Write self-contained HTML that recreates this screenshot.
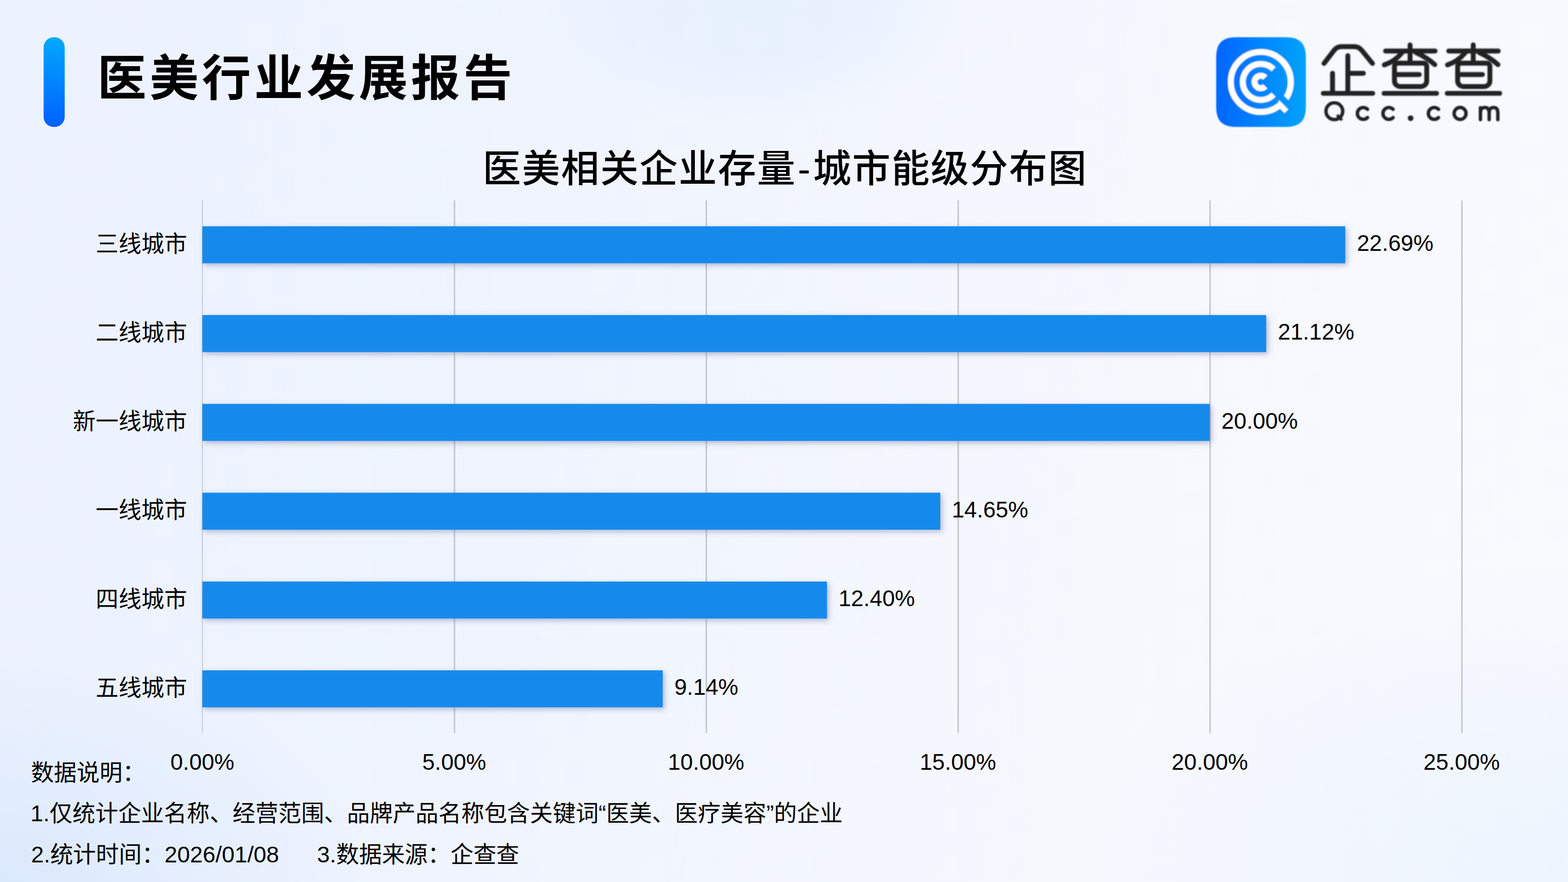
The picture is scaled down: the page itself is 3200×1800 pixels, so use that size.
<!DOCTYPE html>
<html lang="zh-CN"><head><meta charset="utf-8"><title>医美行业发展报告</title>
<style>
html,body{margin:0;padding:0;width:3200px;height:1800px;overflow:hidden;font-family:"Liberation Sans",sans-serif;}
body{position:relative;background:
 radial-gradient(ellipse 760px 470px at 0% 100%, #dbe9fd 0%, rgba(219,233,253,0) 100%),
 radial-gradient(ellipse 1000px 650px at 100% 100%, #ecf4fe 0%, rgba(236,244,254,0) 100%),
 radial-gradient(ellipse 440px 255px at 48% 0%, #e8f1fe 0%, rgba(232,241,254,0.9) 45%, rgba(232,241,254,0) 100%),
 linear-gradient(100deg,#ecf2fe 0%,#eff4fe 35%,#f6f8fe 70%,#f9fafe 100%);}
svg{position:absolute;left:0;top:0;}
svg text{font-family:"Liberation Sans","Noto Sans CJK SC",sans-serif;fill:#000;}
.t{position:absolute;color:transparent;white-space:nowrap;margin:0;font-weight:normal;line-height:1;}
</style></head><body>
<svg width="3200" height="1800" viewBox="0 0 3200 1800">
<defs>
<linearGradient id="pill" x1="0" y1="0" x2="0" y2="1"><stop offset="0" stop-color="#00a9fd"/><stop offset="1" stop-color="#0160ff"/></linearGradient>
<linearGradient id="icon" x1="0" y1="0" x2="1" y2="0"><stop offset="0" stop-color="#0165ff"/><stop offset="1" stop-color="#00a3fd"/></linearGradient>
<filter id="soft" x="-5%" y="-10%" width="110%" height="120%"><feGaussianBlur stdDeviation="7"/></filter>
<filter id="soft2" x="-5%" y="-5%" width="110%" height="110%"><feGaussianBlur stdDeviation="0.9"/></filter>
<filter id="sh" x="-5%" y="-5%" width="110%" height="110%"><feDropShadow dx="3.5" dy="4" stdDeviation="6" flood-color="#56679a" flood-opacity="0.45"/></filter>
<mask id="qm" maskUnits="userSpaceOnUse" x="2480" y="70" width="200" height="200"><rect x="2480" y="70" width="200" height="200" fill="#fff"/><polygon fill="#000" points="2601.28,195.48 2643.71,237.91 2653.40,228.22 2610.97,185.80"/></mask>
</defs>
<rect x="412" y="409" width="2" height="1087" fill="#c6cad3"/><rect x="926" y="409" width="3" height="1087" fill="#c5c7cc"/><rect x="1440" y="409" width="3" height="1087" fill="#c5c7cc"/><rect x="1954" y="409" width="3" height="1087" fill="#c5c7cc"/><rect x="2468" y="409" width="3" height="1087" fill="#c5c7cc"/><rect x="2982" y="409" width="3" height="1087" fill="#c5c7cc"/><g filter="url(#sh)"><rect x="413" y="461.8" width="2332.5" height="75.5" fill="#138aec"/><rect x="413" y="643.0" width="2171.1" height="75.5" fill="#138aec"/><rect x="413" y="824.3" width="2056.0" height="75.5" fill="#138aec"/><rect x="413" y="1005.5" width="1506.0" height="75.5" fill="#138aec"/><rect x="413" y="1186.8" width="1274.7" height="75.5" fill="#138aec"/><rect x="413" y="1368.0" width="939.6" height="75.5" fill="#138aec"/></g>
<text x="195.37" y="513.55" font-size="46.6">三线城市</text>
<text x="2769.27" y="512.25" font-size="46">22.69%</text>
<text x="195.37" y="694.79" font-size="46.6">二线城市</text>
<text x="2607.88" y="693.49" font-size="46">21.12%</text>
<text x="148.77" y="876.03" font-size="46.6">新一线城市</text>
<text x="2492.74" y="874.73" font-size="46">20.00%</text>
<text x="195.37" y="1057.27" font-size="46.6">一线城市</text>
<text x="1942.47" y="1055.97" font-size="46">14.65%</text>
<text x="195.37" y="1238.51" font-size="46.6">四线城市</text>
<text x="1711.17" y="1237.21" font-size="46">12.40%</text>
<text x="195.37" y="1419.75" font-size="46.6">五线城市</text>
<text x="1376.27" y="1418.45" font-size="46">9.14%</text>
<text x="413" y="1570.5" font-size="46" text-anchor="middle">0.00%</text>
<text x="927" y="1570.5" font-size="46" text-anchor="middle">5.00%</text>
<text x="1441" y="1570.5" font-size="46" text-anchor="middle">10.00%</text>
<text x="1955" y="1570.5" font-size="46" text-anchor="middle">15.00%</text>
<text x="2469" y="1570.5" font-size="46" text-anchor="middle">20.00%</text>
<text x="2983" y="1570.5" font-size="46" text-anchor="middle">25.00%</text>
<text x="198.65" y="195" font-size="100" font-weight="bold" letter-spacing="6.7">医美行业发展报告</text>
<text x="984.97" y="372.3" font-size="78" font-weight="500" letter-spacing="2">医美相关企业存量</text>
<text x="1641" y="372.3" font-size="78" font-weight="500" text-anchor="middle">-</text>
<text x="1659.36" y="372.3" font-size="78" font-weight="500" letter-spacing="2">城市能级分布图</text>
<text x="63.17" y="1592.7" font-size="46.7">数据说明：</text>
<text x="62.18" y="1676" font-size="46.7">1.仅统计企业名称、经营范围、品牌产品名称包含关键词“医美、医疗美容”的企业</text>
<text x="63.51" y="1759.7" font-size="46.7">2.统计时间：2026/01/08</text>
<text x="647.09" y="1759.7" font-size="46.7">3.数据来源：企查查</text>
<rect x="89" y="76" width="43" height="183" rx="20.5" fill="url(#pill)"/><g filter="url(#soft2)"><path d="M2524 76h99c30 0 42 12 42 42v99c0 30-12 42-42 42h-99c-30 0-42-12-42-42v-99c0-30 12-42 42-42z" fill="url(#icon)"/><g fill="none" stroke="#fff" stroke-width="12.2"><circle cx="2573.0" cy="167.2" r="61.2" mask="url(#qm)"/><path d="M2599.02 193.22A36.8 36.8 0 1 1 2599.02 141.18" stroke-width="12.0"/><path d="M2582.05 176.25A12.8 12.8 0 1 1 2582.05 158.15" stroke-width="12.0"/></g><polygon fill="#fff" points="2609.77,203.97 2629.14,223.34 2621.51,230.98 2607.79,217.26"/></g><g transform="translate(2680 70) scale(0.15528)" fill="none" stroke="#222" stroke-width="64" filter="url(#soft)" stroke-linecap="round" stroke-linejoin="round"><path d="M142 383L272 213Q312 162 372 162L540 162Q600 162 640 213L779 383"/><path d="M455 281V776M455 513H660M254 512V776M133 776H782"/><g transform="translate(0 0)"><path d="M951 220H1602M1273 139V379"/><path d="M1169 240Q1076 355 935 402M1352 240Q1485 300 1598 398"/><path d="M1112 379H1448A44 44 0 0 1 1492 423V612A74 74 0 0 1 1418 686H1142A74 74 0 0 1 1068 612V423A44 44 0 0 1 1112 379Z"/><path d="M1068 529H1394M932 776H1621"/></g><g transform="translate(830 0)"><path d="M951 220H1602M1273 139V379"/><path d="M1169 240Q1076 355 935 402M1352 240Q1485 300 1598 398"/><path d="M1112 379H1448A44 44 0 0 1 1492 423V612A74 74 0 0 1 1418 686H1142A74 74 0 0 1 1068 612V423A44 44 0 0 1 1112 379Z"/><path d="M1068 529H1394M932 776H1621"/></g></g><g transform="translate(2690 200) scale(0.15140)" fill="none" stroke="#222" stroke-width="46" filter="url(#soft)" stroke-linecap="round" stroke-linejoin="round"><circle cx="219" cy="178" r="113"/><path d="M256 228L322 299" stroke-linecap="butt" stroke-width="38"/><path d="M665.6 151.4A80 80 0 1 0 665.6 264.6"/><path d="M1010.6 151.4A80 80 0 1 0 1010.6 264.6"/><path d="M1622.6 151.4A80 80 0 1 0 1622.6 264.6"/><circle cx="1247" cy="272" r="38" fill="#222" stroke="none"/><circle cx="1914" cy="208" r="80.5"/><path d="M2188 132V290M2188 200Q2188 128 2247 128Q2306 128 2306 200V290M2306 200Q2306 128 2365 128Q2423 128 2423 200V290"/></g>
</svg>
<h1 class="t" style="left:206px;top:106px;font-size:105px">医美行业发展报告</h1>
<div class="t" style="left:2700px;top:90px;font-size:100px">企查查</div>
<div class="t" style="left:2700px;top:205px;font-size:50px">Qcc.com</div>
<h2 class="t" style="left:988px;top:302px;font-size:79px">医美相关企业存量-城市能级分布图</h2>
<div class="t" style="left:150px;top:477px;font-size:46px">三线城市</div><div class="t" style="left:2772px;top:477px;font-size:46px">22.69%</div>
<div class="t" style="left:150px;top:658px;font-size:46px">二线城市</div><div class="t" style="left:2610px;top:658px;font-size:46px">21.12%</div>
<div class="t" style="left:150px;top:839px;font-size:46px">新一线城市</div><div class="t" style="left:2495px;top:839px;font-size:46px">20.00%</div>
<div class="t" style="left:150px;top:1021px;font-size:46px">一线城市</div><div class="t" style="left:1945px;top:1021px;font-size:46px">14.65%</div>
<div class="t" style="left:150px;top:1202px;font-size:46px">四线城市</div><div class="t" style="left:1714px;top:1202px;font-size:46px">12.40%</div>
<div class="t" style="left:150px;top:1383px;font-size:46px">五线城市</div><div class="t" style="left:1379px;top:1383px;font-size:46px">9.14%</div>
<div class="t" style="left:349px;top:1532px;font-size:46px">0.00%</div><div class="t" style="left:863px;top:1532px;font-size:46px">5.00%</div><div class="t" style="left:1377px;top:1532px;font-size:46px">10.00%</div><div class="t" style="left:1891px;top:1532px;font-size:46px">15.00%</div><div class="t" style="left:2405px;top:1532px;font-size:46px">20.00%</div><div class="t" style="left:2919px;top:1532px;font-size:46px">25.00%</div>
<p class="t" style="left:65px;top:1550px;font-size:46px">数据说明：</p>
<p class="t" style="left:65px;top:1634px;font-size:46px">1.仅统计企业名称、经营范围、品牌产品名称包含关键词“医美、医疗美容”的企业</p>
<p class="t" style="left:65px;top:1717px;font-size:46px">2.统计时间：2026/01/08 3.数据来源：企查查</p>
</body></html>
